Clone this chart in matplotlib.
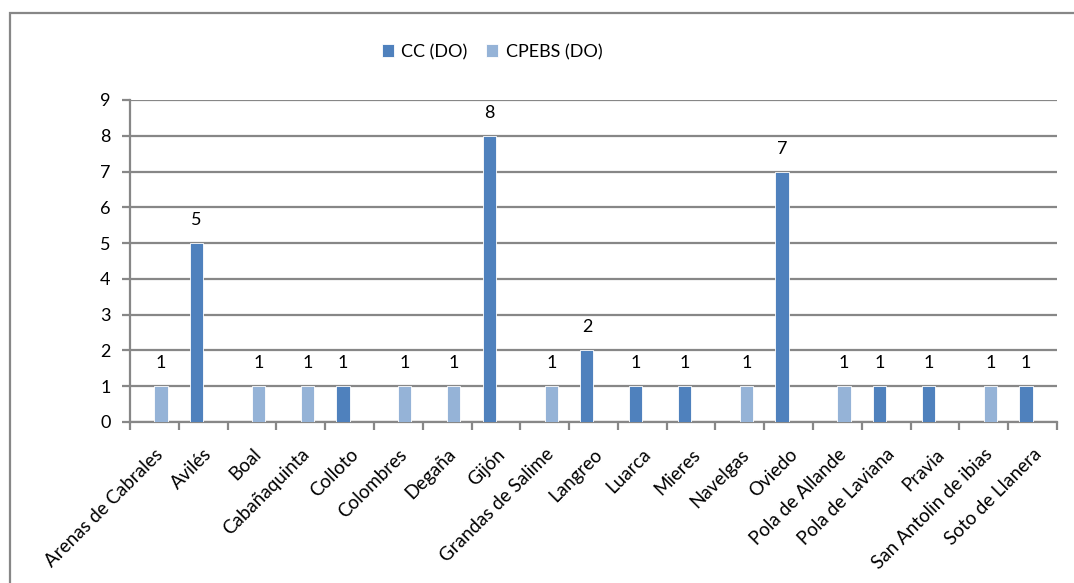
import numpy as np
import matplotlib.pyplot as plt
from matplotlib.patches import Rectangle

# Centros por localidad: CC (DO) y CPEBS (DO)
localidades = ['Arenas de Cabrales', 'Avilés', 'Boal', 'Cabañaquinta', 'Colloto',
               'Colombres', 'Degaña', 'Gijón', 'Grandas de Salime', 'Langreo',
               'Luarca', 'Mieres', 'Navelgas', 'Oviedo', 'Pola de Allande',
               'Pola de Laviana', 'Pravia', 'San Antolin de ibias', 'Soto de Llanera']
cc_do = [0, 5, 0, 0, 1, 0, 0, 8, 0, 2, 1, 1, 0, 7, 0, 1, 1, 0, 1]
cpebs_do = [1, 0, 1, 1, 0, 1, 1, 0, 1, 0, 0, 0, 1, 0, 1, 0, 0, 1, 0]
series_names = ['CC (DO)', 'CPEBS (DO)']
y_ticks = list(range(0, 10))

plt.rcParams['font.family'] = ['Lato', 'DejaVu Sans']
GRIS = '#878787'

fig = plt.figure(figsize=(10.74, 5.83), dpi=100)
ax = fig.add_axes([0.1210, 0.2762, 0.8632, 0.5523])

x = np.arange(len(localidades))
w = 0.27
b1 = ax.bar(x - w / 2, cc_do, w, color='#4F81BD', edgecolor='white', linewidth=0.6,
            label=series_names[0], zorder=3)
b2 = ax.bar(x + w / 2, cpebs_do, w, color='#95B3D7', edgecolor='white', linewidth=0.6,
            label=series_names[1], zorder=3)

# etiquetas de valor solo en las barras con datos
for bars, vals in ((b1, cc_do), (b2, cpebs_do)):
    for rect, v in zip(bars, vals):
        if v > 0:
            ax.text(rect.get_x() + rect.get_width() / 2, v + 0.42, str(v),
                    ha='center', va='bottom', fontsize=13, color='black')

ax.set_xlim(-0.5, len(localidades) - 0.5)
ax.set_ylim(0, 9)
ax.set_yticks(y_ticks)
ax.yaxis.grid(True, color=GRIS, linewidth=1.6, zorder=0)
ax.set_axisbelow(True)

ax.set_xticks(np.arange(-0.5, len(localidades), 1))
ax.set_xticklabels([])
ax.set_xticks(x, minor=True)
ax.set_xticklabels(localidades, minor=True, rotation=45, ha='right',
                   rotation_mode='anchor', fontsize=13.5)
ax.tick_params(axis='x', which='minor', length=0, pad=17)
ax.tick_params(axis='x', which='major', length=6, width=1.6, color=GRIS)
ax.tick_params(axis='y', length=6, width=1.6, color=GRIS, labelsize=13, pad=8)

for s in ('top', 'right'):
    ax.spines[s].set_visible(False)
for s in ('left', 'bottom'):
    ax.spines[s].set_color(GRIS)
    ax.spines[s].set_linewidth(1.6)

fig.legend(loc='center', bbox_to_anchor=(0.458, 0.911), ncol=2, frameon=False,
           fontsize=13, handlelength=0.7, handleheight=0.7, handletextpad=0.4,
           columnspacing=1.0)

# marco del área del gráfico
fig.patches.append(Rectangle((10 / 1074, -0.05), 1.2, 1.05 - 13 / 583,
                             transform=fig.transFigure, fill=False,
                             edgecolor=GRIS, linewidth=1.6))

fig.savefig('out.png', dpi=100)
